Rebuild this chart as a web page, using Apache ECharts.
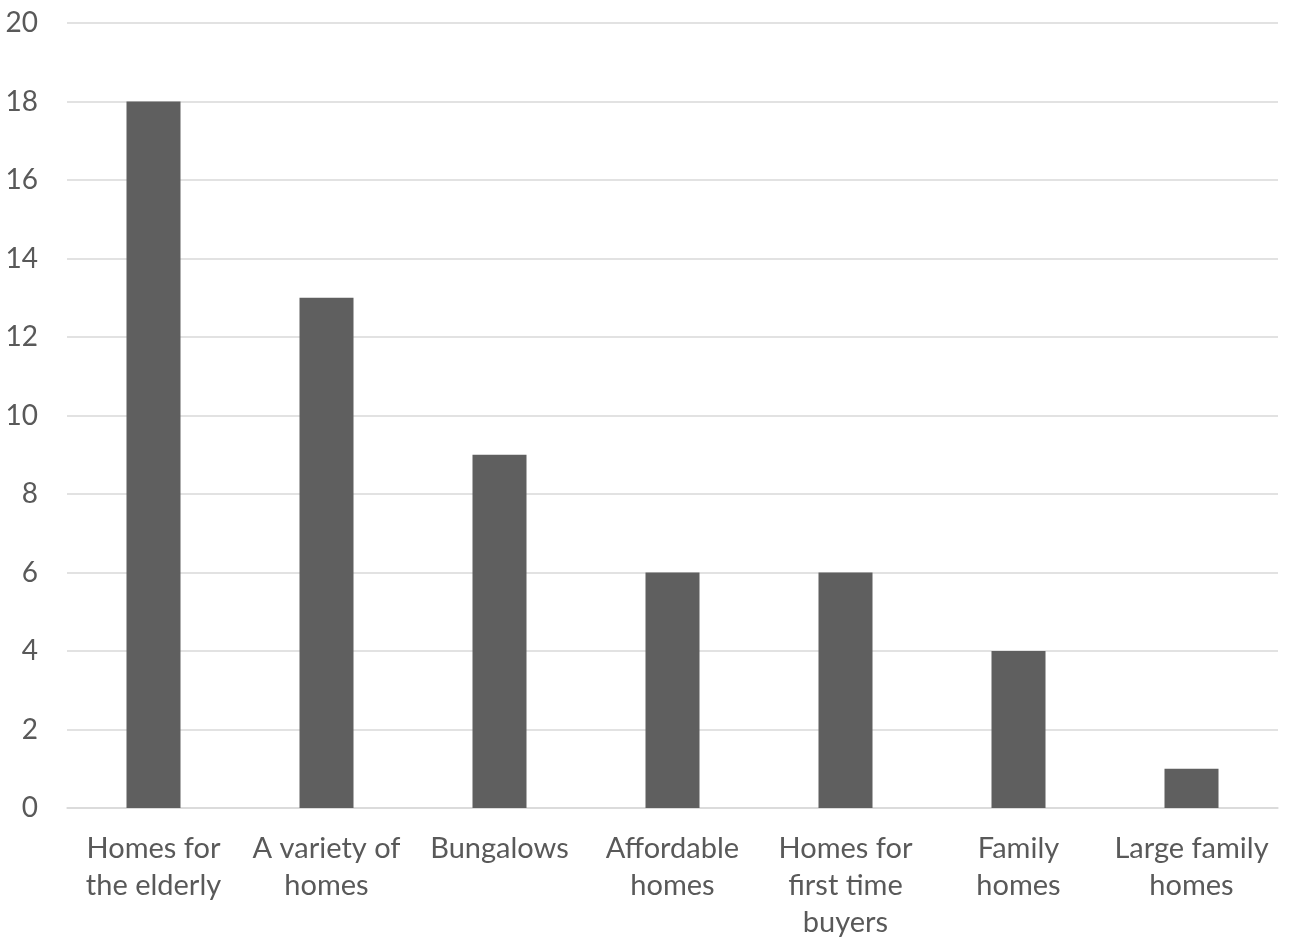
<!DOCTYPE html>
<html>
<head>
<meta charset="utf-8">
<script src="https://cdn.jsdelivr.net/npm/echarts@6/dist/echarts.min.js"></script>
<style>
html,body{margin:0;padding:0;background:#fff;}
#c{width:1289px;height:937px;}
</style>
</head>
<body>
<div id="c"></div>
<script>
const categories = ["Homes for\nthe elderly", "A variety of\nhomes", "Bungalows", "Affordable\nhomes", "Homes for\nfirst time\nbuyers", "Family\nhomes", "Large family\nhomes"];
const values = [18, 13, 9, 6, 6, 4, 1];
const yTicks = { min: 0, max: 20, interval: 2 };

const chart = echarts.init(document.getElementById('c'));
chart.setOption({
  animation: false,
  backgroundColor: '#ffffff',
  grid: { left: 67, right: 11, top: 23, bottom: 129, containLabel: false, outerBoundsMode: 'none' },
  xAxis: {
    type: 'category',
    data: categories,
    axisLine: { show: true, lineStyle: { color: '#d9d9d9', width: 1.5 } },
    axisTick: { show: false },
    axisLabel: {
      color: '#595959', fontSize: 29, fontFamily: 'Lato', lineHeight: 37, margin: 22, interval: 0
    }
  },
  yAxis: {
    type: 'value',
    min: yTicks.min, max: yTicks.max, interval: yTicks.interval,
    axisLine: { show: false },
    axisTick: { show: false },
    splitLine: { lineStyle: { color: '#d9d9d9', width: 1.5 } },
    axisLabel: { color: '#595959', fontSize: 28, fontFamily: 'Lato', margin: 29 }
  },
  series: [{
    type: 'bar',
    data: values,
    barWidth: 54,
    itemStyle: { color: '#5f5f5f' }
  }]
});
</script>
</body>
</html>
